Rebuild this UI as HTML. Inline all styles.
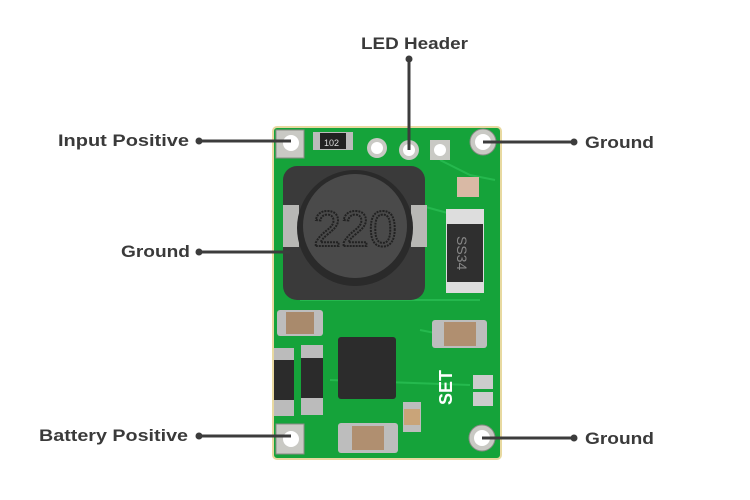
<!DOCTYPE html>
<html><head><style>
html,body{margin:0;padding:0;background:#fff;width:750px;height:500px;overflow:hidden}
text{font-family:"Liberation Sans",sans-serif;font-weight:bold;font-size:17px;fill:#3a3a3a}
</style></head><body>
<svg width="750" height="500" viewBox="0 0 750 500" xmlns="http://www.w3.org/2000/svg">
<!-- board -->
<rect x="273" y="127" width="228" height="332" rx="4" fill="#15a33a"/>
<rect x="273" y="127" width="228" height="332" rx="4" fill="none" stroke="#e8d9a0" stroke-width="2"/>
<!-- traces -->
<g stroke="#2cc257" stroke-width="2" fill="none" opacity="0.7">
<path d="M440 160 L470 175 L495 180"/><path d="M420 330 L470 340"/><path d="M330 380 L470 385"/>
<path d="M400 200 L455 215"/><path d="M300 300 L480 300"/>
</g>
<!-- corner pads -->
<g fill="#c9c9c4" stroke="#8a8a85" stroke-width="1">
<rect x="276" y="130" width="28" height="28"/><rect x="276" y="424" width="28" height="30"/>
</g>
<g fill="#c9c9c4" stroke="#8a8a85"><circle cx="483" cy="142" r="13"/><circle cx="482" cy="438" r="13"/></g>
<g fill="#fff"><circle cx="291" cy="143" r="8"/><circle cx="291" cy="439" r="8"/><circle cx="483" cy="142" r="8"/><circle cx="482" cy="438" r="8"/></g>
<!-- header pads -->
<g fill="#c9c9c4"><circle cx="377" cy="148" r="10"/><circle cx="409" cy="150" r="10"/><rect x="430" y="140" width="20" height="20"/></g>
<g fill="#fff"><circle cx="377" cy="148" r="6"/><circle cx="409" cy="150" r="6"/><circle cx="440" cy="150" r="6"/></g>
<!-- 102 resistor -->
<rect x="313" y="132" width="40" height="18" fill="#bbb"/><rect x="320" y="133" width="26" height="16" fill="#222"/>
<text x="324" y="146" style="font-size:9px;fill:#ddd;font-weight:normal">102</text>
<!-- inductor -->
<rect x="283" y="166" width="142" height="134" rx="14" fill="#3a3a3a"/>
<rect x="283" y="205" width="16" height="42" fill="#b8b8b5"/><rect x="411" y="205" width="16" height="42" fill="#b8b8b5"/>
<circle cx="355" cy="228" r="58" fill="#2a2a2a"/><circle cx="355" cy="226" r="52" fill="#4a4a4a"/>
<text x="355" y="246" text-anchor="middle" style="font-size:50px;font-weight:normal;fill:none;stroke:#222;stroke-width:2;stroke-dasharray:2 1">220</text>
<!-- LED -->
<rect x="457" y="177" width="22" height="20" fill="#d9b9a5"/>
<!-- diode SS34 -->
<rect x="446" y="209" width="38" height="84" fill="#ddd"/>
<rect x="447" y="224" width="36" height="58" fill="#2f2f2f"/>
<text x="0" y="0" transform="translate(457,236) rotate(90)" style="font-size:14px;font-weight:normal;fill:#888">SS34</text>
<!-- caps -->
<g><rect x="277" y="310" width="46" height="26" fill="#bdbdbd" rx="3"/><rect x="286" y="312" width="28" height="22" fill="#a98a6c"/>
<rect x="432" y="320" width="55" height="28" fill="#bdbdbd" rx="3"/><rect x="444" y="322" width="32" height="24" fill="#b08f70"/>
<rect x="338" y="423" width="60" height="30" fill="#bdbdbd" rx="3"/><rect x="352" y="426" width="32" height="24" fill="#b08f70"/>
<rect x="403" y="402" width="18" height="30" fill="#bdbdbd"/><rect x="404" y="409" width="16" height="16" fill="#c9a479"/></g>
<!-- R100s -->
<rect x="274" y="348" width="20" height="68" fill="#bbb"/><rect x="274" y="360" width="20" height="40" fill="#2b2b2b"/>
<rect x="301" y="345" width="22" height="70" fill="#bbb"/><rect x="301" y="358" width="22" height="40" fill="#2b2b2b"/>
<!-- IC -->
<rect x="338" y="337" width="58" height="62" rx="3" fill="#2c2c2c"/>
<!-- SET -->
<text x="0" y="0" transform="translate(452,405) rotate(-90)" style="font-size:18px;fill:#fff">SET</text>
<rect x="473" y="375" width="20" height="14" fill="#ccc"/><rect x="473" y="392" width="20" height="14" fill="#ccc"/>
<!-- callout lines -->
<g stroke="#3c3c3c" stroke-width="3"><line x1="199" y1="141" x2="291" y2="141"/><line x1="199" y1="252" x2="290" y2="252"/>
<line x1="199" y1="436" x2="291" y2="436"/><line x1="483" y1="142" x2="574" y2="142"/><line x1="482" y1="438" x2="574" y2="438"/>
<line x1="409" y1="59" x2="409" y2="150"/></g>
<g fill="#3c3c3c"><circle cx="199" cy="141" r="3.5"/><circle cx="199" cy="252" r="3.5"/><circle cx="199" cy="436" r="3.5"/>
<circle cx="574" cy="142" r="3.5"/><circle cx="574" cy="438" r="3.5"/><circle cx="409" cy="59" r="3.5"/></g>
<text x="58" y="146" textLength="131" lengthAdjust="spacingAndGlyphs">Input Positive</text>
<text x="121" y="257" textLength="69" lengthAdjust="spacingAndGlyphs">Ground</text>
<text x="39" y="441" textLength="149" lengthAdjust="spacingAndGlyphs">Battery Positive</text>
<text x="585" y="148" textLength="69" lengthAdjust="spacingAndGlyphs">Ground</text>
<text x="585" y="444" textLength="69" lengthAdjust="spacingAndGlyphs">Ground</text>
<text x="361" y="49" textLength="107" lengthAdjust="spacingAndGlyphs">LED Header</text>
</svg>
</body></html>
